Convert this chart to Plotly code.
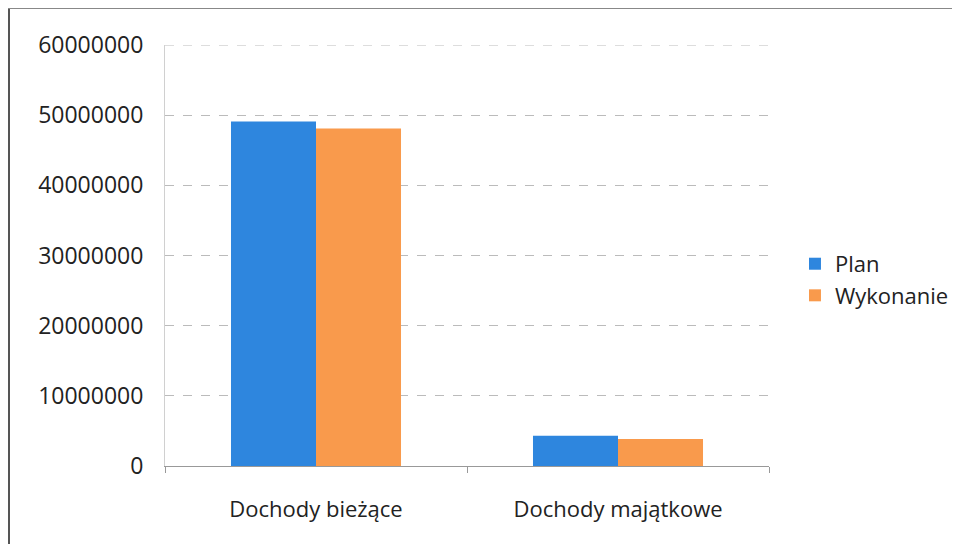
import plotly.graph_objects as go

categories = ["Dochody bieżące", "Dochody majątkowe"]
plan = [49100000, 4300000]
wykonanie = [48100000, 3850000]
y_ticks = [0, 10000000, 20000000, 30000000, 40000000, 50000000, 60000000]
y_max = 60000000

# page body has an 8px margin, so figure coords = window coords - 8
W, H = 952, 536
L, T = 157, 37
PW, PH = 604, 421
R, B = W - L - PW, H - T - PH

def px_x(px):
    return (px - L) / PW

def px_y(py):
    return (T + PH - py) / PH

fig = go.Figure()
fig.add_trace(go.Bar(name="Plan", x=categories, y=plan, marker_color="#2E86DE",
                     marker_line_width=0))
fig.add_trace(go.Bar(name="Wykonanie", x=categories, y=wykonanie, marker_color="#F99A4C",
                     marker_line_width=0))

fig.update_layout(
    width=W, height=H,
    margin=dict(l=L, r=R, t=T, b=B, autoexpand=False),
    paper_bgcolor="white", plot_bgcolor="white",
    barmode="group", bargap=0.437, bargroupgap=0,
    font=dict(family="Open Sans", color="#222222"),
    legend=dict(x=1.043, y=0.442, xanchor="left", yanchor="middle",
                font=dict(size=22), itemwidth=30),
    xaxis=dict(tickfont=dict(size=22), showgrid=False, ticks="outside",
               tickson="boundaries", ticklen=6, tickcolor="#999999",
               showline=True, linecolor="#999999", linewidth=1,
               ticklabelstandoff=24),
    yaxis=dict(range=[0, y_max], tickvals=y_ticks,
               ticktext=[str(v) for v in y_ticks],
               tickfont=dict(size=23), showgrid=True, gridcolor="#bbbbbb",
               griddash="dash", gridwidth=1, showline=True, linecolor="#d0d0d0",
               zeroline=False, ticks="", ticklabelstandoff=16),
    shapes=[
        dict(type="line", xref="x domain", yref="y",
             x0=0, x1=1, y0=y_max, y1=y_max,
             line=dict(color="#bbbbbb", width=1, dash="dash")),
        dict(type="line", xref="paper", yref="paper",
             x0=px_x(1), x1=px_x(1), y0=px_y(0), y1=px_y(H),
             line=dict(color="#555555", width=2)),
        dict(type="line", xref="paper", yref="paper",
             x0=px_x(0), x1=px_x(W), y0=px_y(0.5), y1=px_y(0.5),
             line=dict(color="#888888", width=1)),
    ],
)

fig.write_html("out.html")
